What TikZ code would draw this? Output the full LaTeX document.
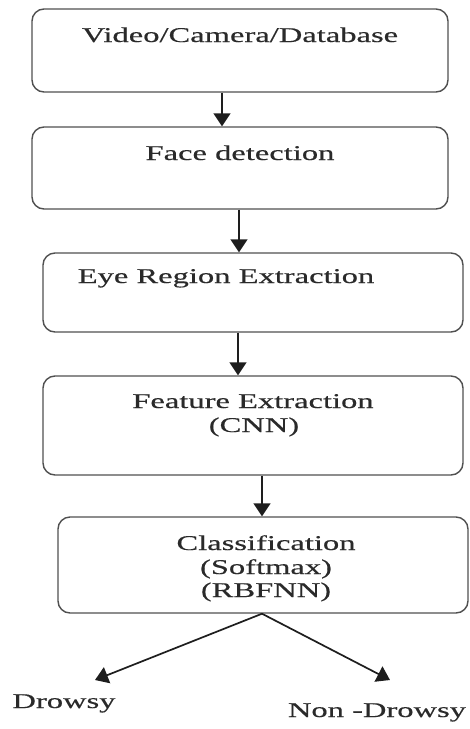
\documentclass[tikz,border=0pt]{standalone}
\usepackage{fontspec}
\setmainfont[FakeStretch=1.55,FakeBold=0.4]{Liberation Serif}
\usetikzlibrary{arrows.meta}
\definecolor{ln}{HTML}{505050}
\definecolor{ar}{HTML}{1E1E1E}
\definecolor{tx}{HTML}{2A2A2A}
\tikzset{
  stagebox/.style={draw=ln, line width=1.4pt, rounded corners=12pt, rectangle, inner sep=0pt},
  lbl/.style={text=tx, font=\fontsize{21}{24}\selectfont, inner sep=0pt, align=center, anchor=base},
  arr/.style={draw=ar, line width=1.7pt, -{Triangle[length=13pt,width=17pt]}}
}
\begin{document}
\begin{tikzpicture}[x=1pt,y=-1pt]
\useasboundingbox[fill=white] (0,0) rectangle (470,729);
% boxes
\node[stagebox, minimum width=416pt, minimum height=83pt] (b1) at (240,50.5) {};
\node[stagebox, minimum width=416pt, minimum height=82pt] (b2) at (240,168) {};
\node[stagebox, minimum width=420pt, minimum height=79pt] (b3) at (253,292.5) {};
\node[stagebox, minimum width=420pt, minimum height=99pt] (b4) at (253,425.5) {};
\node[stagebox, minimum width=410pt, minimum height=96pt] (b5) at (263,565) {};
% texts
\node[lbl] (t1) at (240,42) {Video/Camera/Database};
\node[lbl] (t2) at (240,160) {Face detection};
\node[lbl] (t3) at (226,283) {Eye Region Extraction};
\node[lbl] (t4a) at (253,408) {Feature Extraction};
\node[lbl] (t4b) at (254,432) {(CNN)};
\node[lbl] (t5a) at (266,550) {Classification};
\node[lbl] (t5b) at (266,574) {(Softmax)};
\node[lbl] (t5c) at (266,597) {(RBFNN)};
\node[lbl] (d) at (64,708) {Drowsy};
\node[lbl] (nd) at (377,717) {Non -Drowsy};
% arrow x positions
\coordinate (x1) at (222,0);
\coordinate (x2) at (239,0);
\coordinate (x3) at (238,0);
\coordinate (x4) at (262,0);
\coordinate (tipL) at (95,680);
\coordinate (tipR) at (390,680);
\draw[arr] (x1 |- b1.south) -- (x1 |- b2.north);
\draw[arr] (x2 |- b2.south) -- (x2 |- b3.north);
\draw[arr] (x3 |- b3.south) -- (x3 |- b4.north);
\draw[arr] (x4 |- b4.south) -- (x4 |- b5.north);
\draw[arr] (x4 |- b5.south) -- (tipL);
\draw[arr] (x4 |- b5.south) -- (tipR);
\end{tikzpicture}
\end{document}
